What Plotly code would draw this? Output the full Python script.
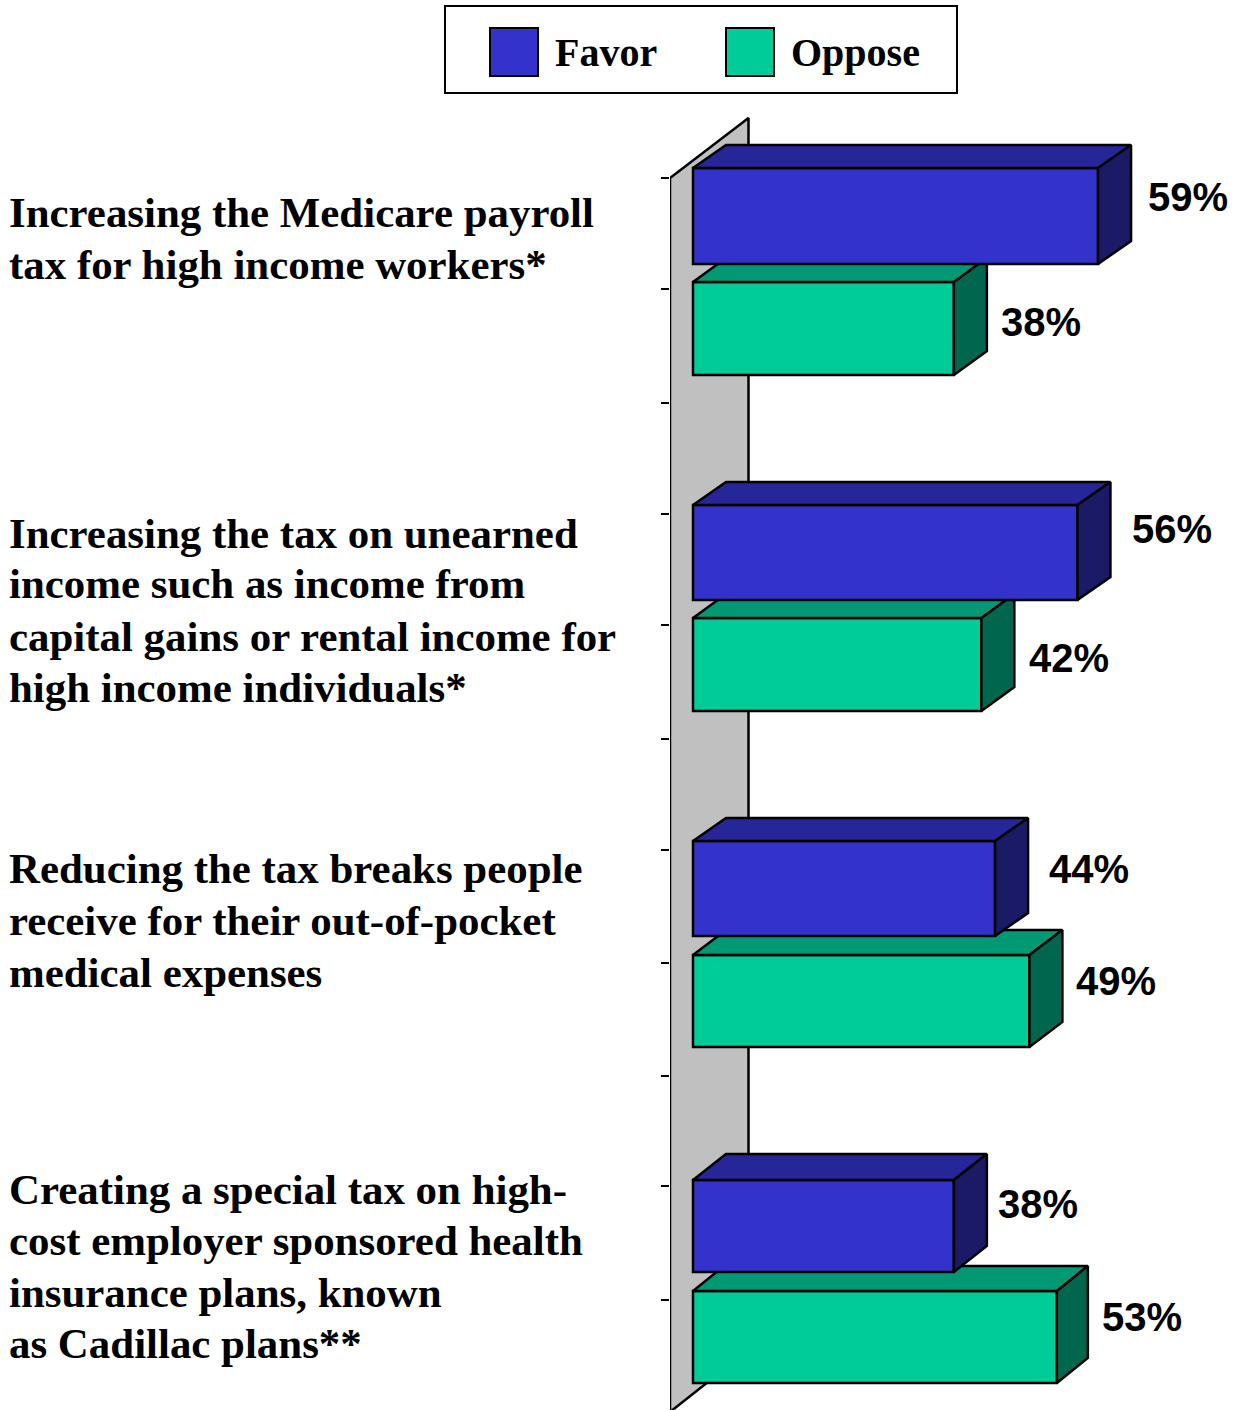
import plotly.graph_objects as go

# ---- data ----
categories = [
    ["Increasing the Medicare payroll", "tax for high income workers*"],
    ["Increasing the tax on unearned", "income such as income from",
     "capital gains or rental income for", "high income individuals*"],
    ["Reducing the tax breaks people", "receive for their out-of-pocket", "medical expenses"],
    ["Creating a special tax on high-", "cost employer sponsored health",
     "insurance plans, known", "as Cadillac plans**"],
]
favor = [59, 56, 44, 38]
oppose = [38, 42, 49, 53]
series_names = ["Favor", "Oppose"]

# ---- layout geometry (pixels of the 1239x1410 page) ----
W, H = 1239, 1410
X0 = 693
K = 6.865
FAVOR_TOP = [168, 505, 841, 1180]
FAVOR_BOT = [264, 600, 936, 1272]
OPPOSE_TOP = [282, 618, 955, 1291]
OPPOSE_BOT = [375, 711, 1047, 1383]
FAVOR_DEPTH = [(33, 23), (33, 23), (33, 23), (33, 26)]
OPPOSE_DEPTH = [(33, 24), (33, 24), (33, 25), (31, 25)]
FAVOR_LABEL_PX = [(1188, 197), (1172, 529), (1089, 869), (1038, 1204)]
OPPOSE_LABEL_PX = [(1041, 322), (1069, 658), (1116, 981), (1142, 1317)]
LINE_CENTER_PX = [[213, 264], [533, 584, 636, 687], [869, 920, 972], [1189, 1240, 1292, 1343]]
TICK_PX = [178, 289, 403, 514, 625, 739, 850, 963, 1076, 1186, 1300]
LEFT_TEXT_PX = 7.5
LEFT_SIZE = 42.9
VALUE_SIZE = 40
LEGEND_SIZE = 40

BLUE, BLUE_TOP, BLUE_SIDE = "#3333CC", "#262699", "#1A1A66"
GREEN, GREEN_TOP, GREEN_SIDE = "#00CC99", "#009973", "#00664D"
WALL = "#C0C0C0"
LINE = dict(color="black", width=2.5)
THIN = dict(color="black", width=2)


def xv(px):
    return (px - X0) / K


def faces(values, tops, bots, depths):
    tx, ty, sx, sy = [], [], [], []
    for v, t, b, (dpx, dy) in zip(values, tops, bots, depths):
        d = dpx / K
        tx += [0, v, v + d, d, 0, None]
        ty += [t, t, t - dy, t - dy, t, None]
        sx += [v, v + d, v + d, v, v, None]
        sy += [t, t - dy, b - dy, b, t, None]
    return tx, ty, sx, sy


def poly(x, y, fill, xa, ya):
    return go.Scatter(x=x, y=y, mode="lines", fill="toself", fillcolor=fill, line=LINE,
                      hoverinfo="skip", showlegend=False, xaxis=xa, yaxis=ya)


def bar(values, tops, bots, color, name, xa, ya):
    return go.Bar(x=values, y=[(t + b) / 2 for t, b in zip(tops, bots)],
                  width=[b - t for t, b in zip(tops, bots)], orientation="h", name=name,
                  marker=dict(color=color, line=LINE), showlegend=False, xaxis=xa, yaxis=ya)


fig = go.Figure()

# wall
fig.add_trace(poly([xv(670), xv(670), xv(748.5), xv(748.5), xv(670)],
                   [H + 2, 178, 118, 1350, H + 2], WALL, "x", "y"))

# oppose layer
tx, ty, sx, sy = faces(oppose, OPPOSE_TOP, OPPOSE_BOT, OPPOSE_DEPTH)
fig.add_trace(bar(oppose, OPPOSE_TOP, OPPOSE_BOT, GREEN, series_names[1], "x2", "y2"))
fig.add_trace(poly(tx, ty, GREEN_TOP, "x2", "y2"))
fig.add_trace(poly(sx, sy, GREEN_SIDE, "x2", "y2"))

# favor layer
tx, ty, sx, sy = faces(favor, FAVOR_TOP, FAVOR_BOT, FAVOR_DEPTH)
fig.add_trace(bar(favor, FAVOR_TOP, FAVOR_BOT, BLUE, series_names[0], "x3", "y3"))
fig.add_trace(poly(tx, ty, BLUE_TOP, "x3", "y3"))
fig.add_trace(poly(sx, sy, BLUE_SIDE, "x3", "y3"))

x_range = [xv(670), xv(W)]
y_range = [H, 0]
hidden = dict(visible=False, showgrid=False, zeroline=False)

annotations = []
for lines, centers in zip(categories, LINE_CENTER_PX):
    for text, cy in zip(lines, centers):
        annotations.append(dict(text=text, x=LEFT_TEXT_PX / W, y=1 - cy / H, xref="paper", yref="paper",
                                xanchor="left", yanchor="middle", align="left", showarrow=False,
                                borderpad=0,
                                font=dict(family="Liberation Serif", size=LEFT_SIZE, color="black", weight="bold")))
for values, pos in ((favor, FAVOR_LABEL_PX), (oppose, OPPOSE_LABEL_PX)):
    for v, (px, py) in zip(values, pos):
        annotations.append(dict(text=f"{v}%", x=px / W, y=1 - py / H, xref="paper", yref="paper",
                                xanchor="center", yanchor="middle", showarrow=False, borderpad=0,
                                font=dict(family="Liberation Sans", size=VALUE_SIZE, color="black", weight="bold")))
for name, px in zip(series_names, (554, 790)):
    annotations.append(dict(text=name, x=px / W, y=1 - 52 / H, xref="paper", yref="paper",
                            xanchor="left", yanchor="middle", showarrow=False, borderpad=0,
                            font=dict(family="Liberation Serif", size=LEGEND_SIZE, color="black", weight="bold")))


def rect(x0, y0, x1, y1, fill):
    return dict(type="rect", xref="paper", yref="paper", x0=x0 / W, x1=x1 / W,
                y0=1 - y0 / H, y1=1 - y1 / H, fillcolor=fill, line=THIN, layer="above")


shapes = [rect(445, 6, 957, 93, "white"), rect(490, 28, 538, 76, BLUE), rect(726, 28, 774, 76, GREEN)]

fig.update_layout(
    width=W, height=H, margin=dict(l=0, r=0, t=0, b=0), autosize=False,
    paper_bgcolor="white", plot_bgcolor="rgba(0,0,0,0)", barmode="overlay", showlegend=False,
    annotations=annotations, shapes=shapes,
    xaxis=dict(domain=[670 / W, 1], range=x_range, **hidden),
    yaxis=dict(domain=[0, 1], range=y_range, anchor="x", side="left", showgrid=False, zeroline=False,
               showline=False, showticklabels=False, tickmode="array", tickvals=TICK_PX,
               ticks="outside", ticklen=8, tickwidth=2, tickcolor="black"),
    xaxis2=dict(overlaying="x", range=x_range, **hidden),
    yaxis2=dict(overlaying="y", range=y_range, anchor="x2", **hidden),
    xaxis3=dict(overlaying="x", range=x_range, **hidden),
    yaxis3=dict(overlaying="y", range=y_range, anchor="x3", **hidden),
)

fig.write_html("out.html", config=dict(displayModeBar=False),
               post_script="document.body.style.margin='0';")
